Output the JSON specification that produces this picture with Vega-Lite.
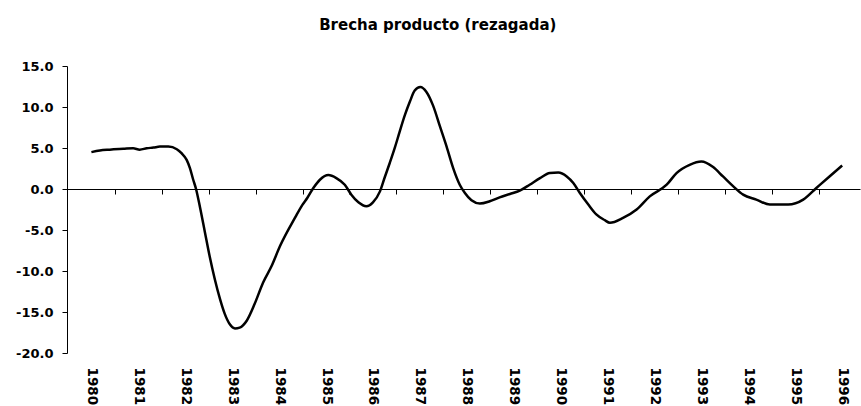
{
  "$schema": "https://vega.github.io/schema/vega-lite/v6.json",
  "width": 793,
  "height": 287,
  "autosize": {"type": "none"},
  "padding": {"left": 67, "top": 66, "right": 1, "bottom": 53},
  "background": "white",
  "title": {
    "text": "Brecha producto (rezagada)",
    "font": "DejaVu Sans",
    "fontSize": 15,
    "fontWeight": "bold",
    "color": "black",
    "anchor": "middle",
    "frame": "bounds",
    "offset": 27
  },
  "config": {
    "view": {"stroke": null},
    "axis": {
      "labelFont": "DejaVu Sans",
      "labelFontSize": 13,
      "labelFontWeight": "bold",
      "labelColor": "black",
      "domainColor": "black",
      "tickColor": "black",
      "grid": false,
      "title": null
    }
  },
  "data": {
    "values": [
      {"year": 1980.0, "gap": 4.5},
      {"year": 1980.18, "gap": 4.7},
      {"year": 1980.39, "gap": 4.8},
      {"year": 1980.68, "gap": 4.9},
      {"year": 1980.89, "gap": 4.97},
      {"year": 1981.03, "gap": 4.8},
      {"year": 1981.18, "gap": 4.97},
      {"year": 1981.32, "gap": 5.05},
      {"year": 1981.46, "gap": 5.17},
      {"year": 1981.64, "gap": 5.17},
      {"year": 1981.82, "gap": 4.85},
      {"year": 1981.92, "gap": 4.37},
      {"year": 1982.03, "gap": 3.55},
      {"year": 1982.1, "gap": 2.55},
      {"year": 1982.17, "gap": 1.13},
      {"year": 1982.23, "gap": 0.0},
      {"year": 1982.31, "gap": -2.1},
      {"year": 1982.42, "gap": -5.3},
      {"year": 1982.52, "gap": -8.2},
      {"year": 1982.63, "gap": -11.0},
      {"year": 1982.74, "gap": -13.4},
      {"year": 1982.84, "gap": -15.2},
      {"year": 1982.95, "gap": -16.5},
      {"year": 1983.06, "gap": -17.0},
      {"year": 1983.16, "gap": -16.9},
      {"year": 1983.31, "gap": -16.06},
      {"year": 1983.48, "gap": -14.0},
      {"year": 1983.66, "gap": -11.4},
      {"year": 1983.84, "gap": -9.4},
      {"year": 1984.02, "gap": -6.96},
      {"year": 1984.34, "gap": -3.5},
      {"year": 1984.5, "gap": -1.9},
      {"year": 1984.6, "gap": -1.1},
      {"year": 1984.73, "gap": 0.12},
      {"year": 1984.87, "gap": 1.13},
      {"year": 1985.05, "gap": 1.7},
      {"year": 1985.22, "gap": 1.33},
      {"year": 1985.4, "gap": 0.52},
      {"year": 1985.54, "gap": -0.69},
      {"year": 1985.69, "gap": -1.62},
      {"year": 1985.86, "gap": -2.1},
      {"year": 1986.0, "gap": -1.62},
      {"year": 1986.15, "gap": -0.29},
      {"year": 1986.25, "gap": 1.4},
      {"year": 1986.36, "gap": 3.2},
      {"year": 1986.47, "gap": 5.1},
      {"year": 1986.57, "gap": 7.0},
      {"year": 1986.68, "gap": 9.0},
      {"year": 1986.79, "gap": 10.7},
      {"year": 1986.89, "gap": 12.0},
      {"year": 1987.01, "gap": 12.45},
      {"year": 1987.14, "gap": 11.84},
      {"year": 1987.28, "gap": 10.2},
      {"year": 1987.43, "gap": 7.6},
      {"year": 1987.57, "gap": 5.17},
      {"year": 1987.71, "gap": 2.55},
      {"year": 1987.85, "gap": 0.52},
      {"year": 1987.96, "gap": -0.49},
      {"year": 1988.1, "gap": -1.38},
      {"year": 1988.28, "gap": -1.78},
      {"year": 1988.49, "gap": -1.5},
      {"year": 1988.7, "gap": -1.02},
      {"year": 1988.92, "gap": -0.61},
      {"year": 1989.13, "gap": -0.2},
      {"year": 1989.34, "gap": 0.52},
      {"year": 1989.56, "gap": 1.33},
      {"year": 1989.77, "gap": 1.94},
      {"year": 1989.95, "gap": 2.0},
      {"year": 1990.13, "gap": 1.53},
      {"year": 1990.27, "gap": 0.73},
      {"year": 1990.41, "gap": -0.49},
      {"year": 1990.59, "gap": -1.9},
      {"year": 1990.76, "gap": -3.1},
      {"year": 1990.94, "gap": -3.8},
      {"year": 1991.05, "gap": -4.12},
      {"year": 1991.33, "gap": -3.52},
      {"year": 1991.62, "gap": -2.5},
      {"year": 1991.9, "gap": -0.9},
      {"year": 1992.26, "gap": 0.52},
      {"year": 1992.47, "gap": 1.94},
      {"year": 1992.75, "gap": 2.95},
      {"year": 1993.0, "gap": 3.35},
      {"year": 1993.25, "gap": 2.67},
      {"year": 1993.46, "gap": 1.53},
      {"year": 1993.68, "gap": 0.32},
      {"year": 1993.89, "gap": -0.69},
      {"year": 1994.17, "gap": -1.3},
      {"year": 1994.46, "gap": -1.9},
      {"year": 1994.85, "gap": -1.9},
      {"year": 1995.17, "gap": -1.3},
      {"year": 1995.45, "gap": 0.12},
      {"year": 1995.73, "gap": 1.53},
      {"year": 1996.0, "gap": 2.86}
    ]
  },
  "resolve": {"axis": {"x": "independent"}},
  "layer": [
    {
      "mark": {"type": "rule", "color": "black", "strokeWidth": 1, "strokeOpacity": 0},
      "encoding": {
        "x": {
          "datum": 1979.48,
          "type": "quantitative",
          "scale": {"domain": [1979.48, 1996.38], "nice": false, "zero": false},
          "axis": {
            "orient": "bottom",
            "offset": -164,
            "values": [1980.5, 1981.5, 1982.5, 1983.5, 1984.5, 1985.5, 1986.5, 1987.5, 1988.5, 1989.5, 1990.5, 1991.5, 1992.5, 1993.5, 1994.5, 1995.5],
            "labels": false,
            "domain": true,
            "ticks": true,
            "tickSize": 5
          }
        },
        "x2": {"datum": 1996.38},
        "y": {"datum": 0, "type": "quantitative"}
      }
    },
    {
      "mark": {"type": "line", "color": "black", "strokeWidth": 2.5, "interpolate": "monotone"},
      "encoding": {
        "x": {
          "field": "year",
          "type": "quantitative",
          "scale": {"domain": [1979.48, 1996.38], "nice": false, "zero": false},
          "axis": {
            "orient": "bottom",
            "values": [1980, 1981, 1982, 1983, 1984, 1985, 1986, 1987, 1988, 1989, 1990, 1991, 1992, 1993, 1994, 1995, 1996],
            "format": "d",
            "labelAngle": 90,
            "labelAlign": "left",
            "labelBaseline": "middle",
            "labelPadding": 14,
            "labelFontSize": 13.5,
            "labelOverlap": false,
            "labelFlush": false,
            "domain": false,
            "ticks": false,
            "tickSize": 0
          }
        },
        "y": {
          "field": "gap",
          "type": "quantitative",
          "scale": {"domain": [-20, 15], "nice": false, "zero": false},
          "axis": {
            "values": [-20, -15, -10, -5, 0, 5, 10, 15],
            "labelExpr": "replace(format(datum.value, '.1f'), '\u2212', '-')",
            "tickSize": 5,
            "labelPadding": 9,
            "domain": true,
            "ticks": true
          }
        }
      }
    }
  ]
}
